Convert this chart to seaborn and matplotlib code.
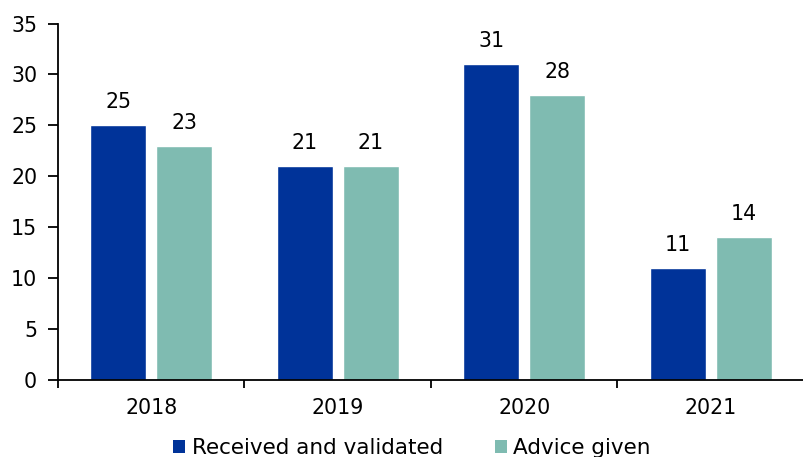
import matplotlib
matplotlib.use("Agg")
import matplotlib.pyplot as plt
import seaborn as sns
import pandas as pd
from matplotlib.patches import Patch

years = ["2018", "2019", "2020", "2021"]
received = [25, 21, 31, 11]
advice = [23, 21, 28, 14]
series_names = ["Received and validated", "Advice given"]
colors = ["#003399", "#7fbbb1"]
yticks = [0, 5, 10, 15, 20, 25, 30, 35]

df = pd.DataFrame({
    "year": years * 2,
    "value": received + advice,
    "series": [series_names[0]] * len(years) + [series_names[1]] * len(years),
})

sns.set_theme(style="white")
plt.rcParams["font.family"] = ["DejaVu Sans"]
plt.rcParams["text.color"] = "black"
plt.rcParams["xtick.color"] = "black"
plt.rcParams["ytick.color"] = "black"

FS = 14.8

fig = plt.figure(figsize=(8.04, 4.57), dpi=100)
ax = fig.add_axes([58 / 804, 1 - 380 / 457, (804 - 58) / 804, (380 - 23.5) / 457])

sns.barplot(data=df, x="year", y="value", hue="series", palette=colors,
            width=0.706, gap=0.15, ax=ax, legend=False, errorbar=None,
            saturation=1)

for c in ax.containers:
    ax.bar_label(c, labels=[f"{v:.0f}" for v in c.datavalues], padding=9.5,
                 fontsize=FS, color="black")

ax.set_ylim(0, 35)
ax.set_yticks(yticks)
ax.set_xlim(-0.5, 3.5)
ax.set_xticks([i - 0.5 for i in range(len(years) + 1)])
ax.set_xticklabels([""] * (len(years) + 1))
ax.set_xticks(range(len(years)), minor=True)
ax.set_xticklabels(years, minor=True)
ax.tick_params(axis="x", which="major", direction="out", length=6, width=1.3,
               color="black", bottom=True)
ax.tick_params(axis="x", which="minor", length=0, pad=13, labelsize=FS,
               labelcolor="black")
ax.tick_params(axis="y", direction="out", length=7, width=1.3, color="black",
               left=True, labelsize=FS, pad=8, labelcolor="black")
ax.set_xlabel("")
ax.set_ylabel("")
for s in ["top", "right"]:
    ax.spines[s].set_visible(False)
for s in ["left", "bottom"]:
    ax.spines[s].set_color("black")
    ax.spines[s].set_linewidth(1.3)

handles = [Patch(facecolor=c, edgecolor="none") for c in colors]
fig.legend(handles, series_names, loc="center", bbox_to_anchor=(412 / 804, 1 - 448 / 457),
           ncol=2, frameon=False, fontsize=15.5, handlelength=0.56, handleheight=0.56,
           handletextpad=0.3, columnspacing=2.4, labelcolor="black")

fig.savefig("out.png", dpi=100)
